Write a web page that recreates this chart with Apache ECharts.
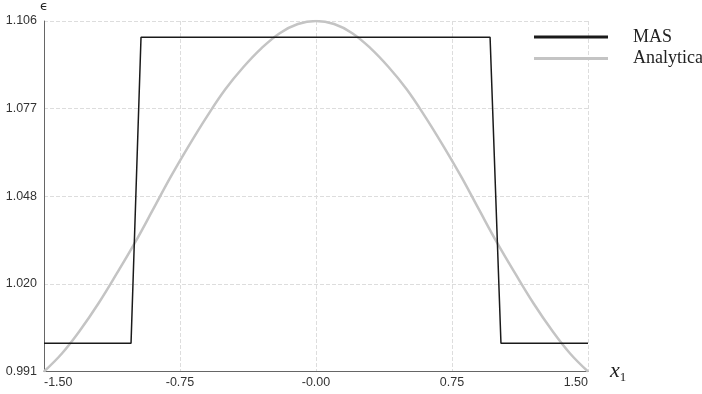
<!DOCTYPE html>
<html><head><meta charset="utf-8">
<script src="https://cdn.jsdelivr.net/npm/echarts@6/dist/echarts.min.js"></script>
<style>html,body{margin:0;padding:0;background:#fff}#c{width:702px;height:394px}</style>
</head><body><div id="c"></div>
<script>
// MAS (numerical) step profile
const masX = [-1.5, -1.02, -0.965, 0.96, 1.02, 1.5];
const masY = [1.0003, 1.0003, 1.1007, 1.1007, 1.0003, 1.0003];
// Analytical curve samples
const anaX = [-1.5, -1.4, -1.3, -1.2, -1.1, -1.0, -0.9, -0.8, -0.7, -0.6, -0.5, -0.4, -0.3, -0.2, -0.1, 0.0,
              0.1, 0.2, 0.3, 0.4, 0.5, 0.6, 0.7, 0.8, 0.9, 1.0, 1.1, 1.2, 1.3, 1.4, 1.5];
const anaY = [0.9910, 0.9970, 1.0046, 1.0133, 1.0230, 1.0331, 1.0440, 1.0550, 1.0652, 1.0748, 1.0836, 1.0909, 1.0971, 1.1020, 1.1050, 1.1060,
              1.1050, 1.1020, 1.0971, 1.0909, 1.0836, 1.0748, 1.0652, 1.0550, 1.0440, 1.0331, 1.0230, 1.0133, 1.0046, 0.9970, 0.9910];
const xTickLabels = ['-1.50', '-0.75', '-0.00', '0.75', '1.50'];
const yTickLabels = ['0.991', '1.020', '1.048', '1.077', '1.106'];
const seriesNames = ['MAS', 'Analytical'];

const zip = (a, b) => a.map((v, i) => [v, b[i]]);
const chart = echarts.init(document.getElementById('c'));
chart.setOption({
  animation: false,
  grid: {left: 44, right: 114, top: 19, bottom: 22.5, containLabel: false},
  legend: {
    orient: 'vertical', left: 529, top: 23, icon: 'rect', itemWidth: 74, itemHeight: 3, itemGap: 3.5,
    textStyle: {fontFamily: 'Liberation Serif', fontSize: 18, color: '#222', padding: [0, 0, 0, 20]},
    data: seriesNames
  },
  xAxis: {
    type: 'value', min: -1.5, max: 1.5, interval: 0.75,
    name: '{x|x}{s|1}', nameLocation: 'end', nameGap: 22,
    nameTextStyle: {rich: {
      x: {fontFamily: 'Liberation Serif', fontStyle: 'italic', fontSize: 22, color: '#222'},
      s: {fontFamily: 'Liberation Serif', fontSize: 13, color: '#222', padding: [12,0,0,0]}
    }},
    axisLine: {onZero: false, lineStyle: {color: '#666', width: 1}},
    axisTick: {show: false},
    axisLabel: {fontFamily: 'Liberation Sans', fontSize: 12.5, color: '#333', margin: 5,
      alignMinLabel: 'left', alignMaxLabel: 'right',
      formatter: (v, i) => xTickLabels[i]},
    splitLine: {show: true, lineStyle: {color: '#ddd', type: 'dashed'}}
  },
  yAxis: {
    type: 'value', min: 0.991, max: 1.106, interval: 0.02875,
    name: 'ϵ', nameLocation: 'end', nameGap: 8,
    nameTextStyle: {fontFamily: 'DejaVu Sans', fontSize: 13, color: '#222', align: 'center'},
    axisLine: {show: true, onZero: false, lineStyle: {color: '#666', width: 1}},
    axisTick: {show: false},
    axisLabel: {fontFamily: 'Liberation Sans', fontSize: 12.5, color: '#333', margin: 7,
      formatter: (v, i) => yTickLabels[i]},
    splitLine: {show: true, lineStyle: {color: '#ddd', type: 'dashed'}}
  },
  series: [
    {name: seriesNames[0], type: 'line', data: zip(masX, masY), showSymbol: false,
     lineStyle: {color: '#1a1a1a', width: 1.5}, itemStyle: {color: '#1a1a1a'}, z: 3},
    {name: seriesNames[1], type: 'line', data: zip(anaX, anaY), showSymbol: false, smooth: 0.4,
     lineStyle: {color: '#c4c4c4', width: 2.5}, itemStyle: {color: '#c4c4c4'}, z: 2}
  ]
});
</script></body></html>
